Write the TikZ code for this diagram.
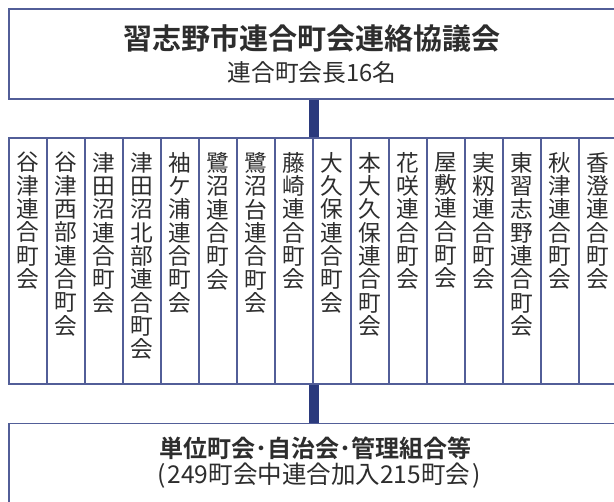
\documentclass[tikz,border=0pt]{standalone}
\usepackage{fontspec}
\setmainfont{Noto Sans CJK JP}[BoldFont={Noto Sans CJK JP Bold}]
\definecolor{edge}{RGB}{82,94,152}
\definecolor{barc}{RGB}{43,58,125}
\definecolor{ink}{RGB}{45,45,45}
\tikzset{
  frame/.style={draw=edge, line width=1.2pt, fill=white, inner sep=0pt, rectangle},
  colbox/.style={frame, minimum width=28.5pt, minimum height=184.5pt},
  coltext/.style={anchor=north, inner sep=0pt, align=center, text=ink,
    font=\fontsize{17pt}{17.5pt}\selectfont},
  bar/.style={draw=barc, line width=7.5pt},
  titletext/.style={text=ink, inner sep=0pt, font=\bfseries\fontsize{21.8pt}{23pt}\selectfont},
  subtext/.style={text=ink, inner sep=0pt, font=\fontsize{17.8pt}{19pt}\selectfont},
  lowtitle/.style={text=ink, inner sep=0pt, font=\bfseries\fontsize{18pt}{19pt}\selectfont},
  lowsub/.style={text=ink, inner sep=0pt, font=\fontsize{18.4pt}{19pt}\selectfont},
}
\begin{document}
\begin{tikzpicture}[x=0.75pt, y=-0.75pt]
\useasboundingbox (0,0) rectangle (614,502);
\clip (0,0) rectangle (614,502);
\fill[white] (0,0) rectangle (614,502);
% top box
\node[frame, minimum width=456pt, minimum height=67.5pt] (council) at (313,54.2) {};
\node[titletext] (title) at (312,38) {習志野市連合町会連絡協議会};
\node[subtext] (sub) at (312,72.5) {連合町会長16名};
% columns
\foreach \i/\t in {1/{谷\\津\\連\\合\\町\\会},
                   2/{谷\\津\\西\\部\\連\\合\\町\\会},
                   3/{津\\田\\沼\\連\\合\\町\\会},
                   4/{津\\田\\沼\\北\\部\\連\\合\\町\\会},
                   5/{袖\\ケ\\浦\\連\\合\\町\\会},
                   6/{鷺\\沼\\連\\合\\町\\会},
                   7/{鷺\\沼\\台\\連\\合\\町\\会},
                   8/{藤\\崎\\連\\合\\町\\会},
                   9/{大\\久\\保\\連\\合\\町\\会},
                   10/{本\\大\\久\\保\\連\\合\\町\\会},
                   11/{花\\咲\\連\\合\\町\\会},
                   12/{屋\\敷\\連\\合\\町\\会},
                   13/{実\\籾\\連\\合\\町\\会},
                   14/{東\\習\\志\\野\\連\\合\\町\\会},
                   15/{秋\\津\\連\\合\\町\\会},
                   16/{香\\澄\\連\\合\\町\\会}} {
  \node[colbox] (c\i) at ({8.7+38*(\i-1)+19},261) {};
  \node[coltext] (t\i) at ({8.7+38*(\i-1)+19},152) {\t};
}
% bottom box
\node[frame, minimum width=456pt, minimum height=90pt] (units) at (313,483.5) {};
\node[lowtitle] (ltitle) at (315,448) {単位町会･自治会･管理組合等};
\node[lowsub] (lsub) at (319,476) {(\kern1.5pt249町会中連合加入215町会\kern1.5pt)};
% connectors
\draw[bar] (c8.north east |- council.south) -- (c8.north east);
\draw[bar] (c8.south east) -- (c8.south east |- units.north);
\end{tikzpicture}
\end{document}
